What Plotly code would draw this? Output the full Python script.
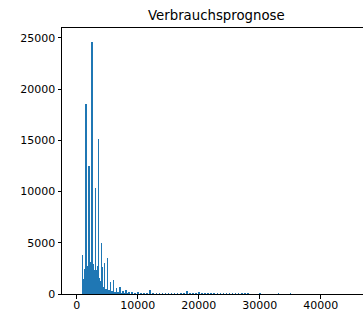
import plotly.graph_objects as go

# Histogram bins (left edge, width 100) and counts
bin_left = [900, 1000, 1100, 1200, 1300, 1400, 1500, 1600, 1700, 1800, 1900,
            2000, 2100, 2200, 2300, 2400, 2500, 2600, 2700, 2800, 2900,
            3000, 3100, 3200, 3300, 3400, 3500, 3600, 3700, 3800, 3900,
            4000, 4100, 4200, 4300, 4400, 4500, 4600, 4700, 4800, 4900,
            5000, 5100, 5200, 5300, 5400, 5500, 5600, 5700, 5800, 5900,
            6000, 6100, 6200, 6300, 6400, 6500, 6600, 6700, 6800, 6900,
            7000, 7200, 7400, 7500, 7700, 8000, 8200, 8500, 9000, 9500,
            10000, 10500, 11000, 11500, 12000, 12500, 13000, 13500, 14000, 14500,
            15000, 15500, 16000, 16500, 17000, 17500, 18000, 18500, 19000, 19500,
            20000, 20500, 21000, 21500, 22000, 22500, 23000, 23500, 24000, 24500,
            25000, 25500, 26000, 26500, 27000, 27500, 28000, 30000, 33000, 35000]
counts = [3800, 750, 1500, 2450, 2000, 1600, 18500, 2750, 2700, 1550, 3000,
          12500, 3100, 2050, 2650, 2900, 24600, 2700, 2900, 2350, 2300,
          10300, 2300, 2000, 1500, 2700, 15100, 1550, 1550, 1300, 1200,
          5000, 2650, 600, 500, 700, 3000, 480, 500, 400, 450,
          3500, 400, 350, 300, 300, 1200, 250, 250, 200, 200,
          1370, 180, 150, 150, 150, 620, 120, 100, 100, 100,
          680, 80, 70, 290, 60, 390, 50, 120, 100, 60,
          230, 50, 80, 40, 390, 40, 60, 40, 60, 40,
          80, 40, 60, 40, 50, 40, 290, 40, 50, 40,
          230, 40, 50, 40, 50, 40, 50, 40, 50, 40,
          80, 40, 50, 40, 50, 40, 40, 40, 30, 30]

x_ticks = [0, 10000, 20000, 30000, 40000]
y_ticks = [0, 5000, 10000, 15000, 20000, 25000]
title = "Verbrauchsprognose"

bin_width = 100
centers = [b + bin_width / 2 for b in bin_left]

fig = go.Figure(go.Bar(
    x=centers, y=counts, width=[bin_width] * len(centers),
    marker=dict(color="#1f77b4", line=dict(width=0)),
))

axis_common = dict(
    showline=True, linecolor="black", linewidth=1,
    ticks="outside", ticklen=3.5, tickwidth=1, tickcolor="black",
    showgrid=False, zeroline=False, tickformat="d", automargin=False,
    tickfont=dict(family="DejaVu Sans", size=11, color="black"),
)

fig.update_layout(
    width=363, height=311,
    margin=dict(l=62, r=0, t=28, b=17),
    paper_bgcolor="white", plot_bgcolor="white",
    showlegend=False, bargap=0,
    xaxis=dict(range=[-2410, 46934], tickvals=x_ticks, mirror=True,
               ticklabelstandoff=-3, **axis_common),
    yaxis=dict(range=[0, 25960], tickvals=y_ticks, **axis_common),
    annotations=[dict(
        text=title, xref="paper", yref="paper", x=0.513, y=1,
        xanchor="center", yanchor="bottom", yshift=3, showarrow=False,
        font=dict(family="DejaVu Sans", size=13.3, color="black"),
    )],
)

fig.write_html(
    "out.html",
    config={"displayModeBar": False},
    post_script="document.body.style.margin='0';document.body.style.overflow='hidden';",
)
